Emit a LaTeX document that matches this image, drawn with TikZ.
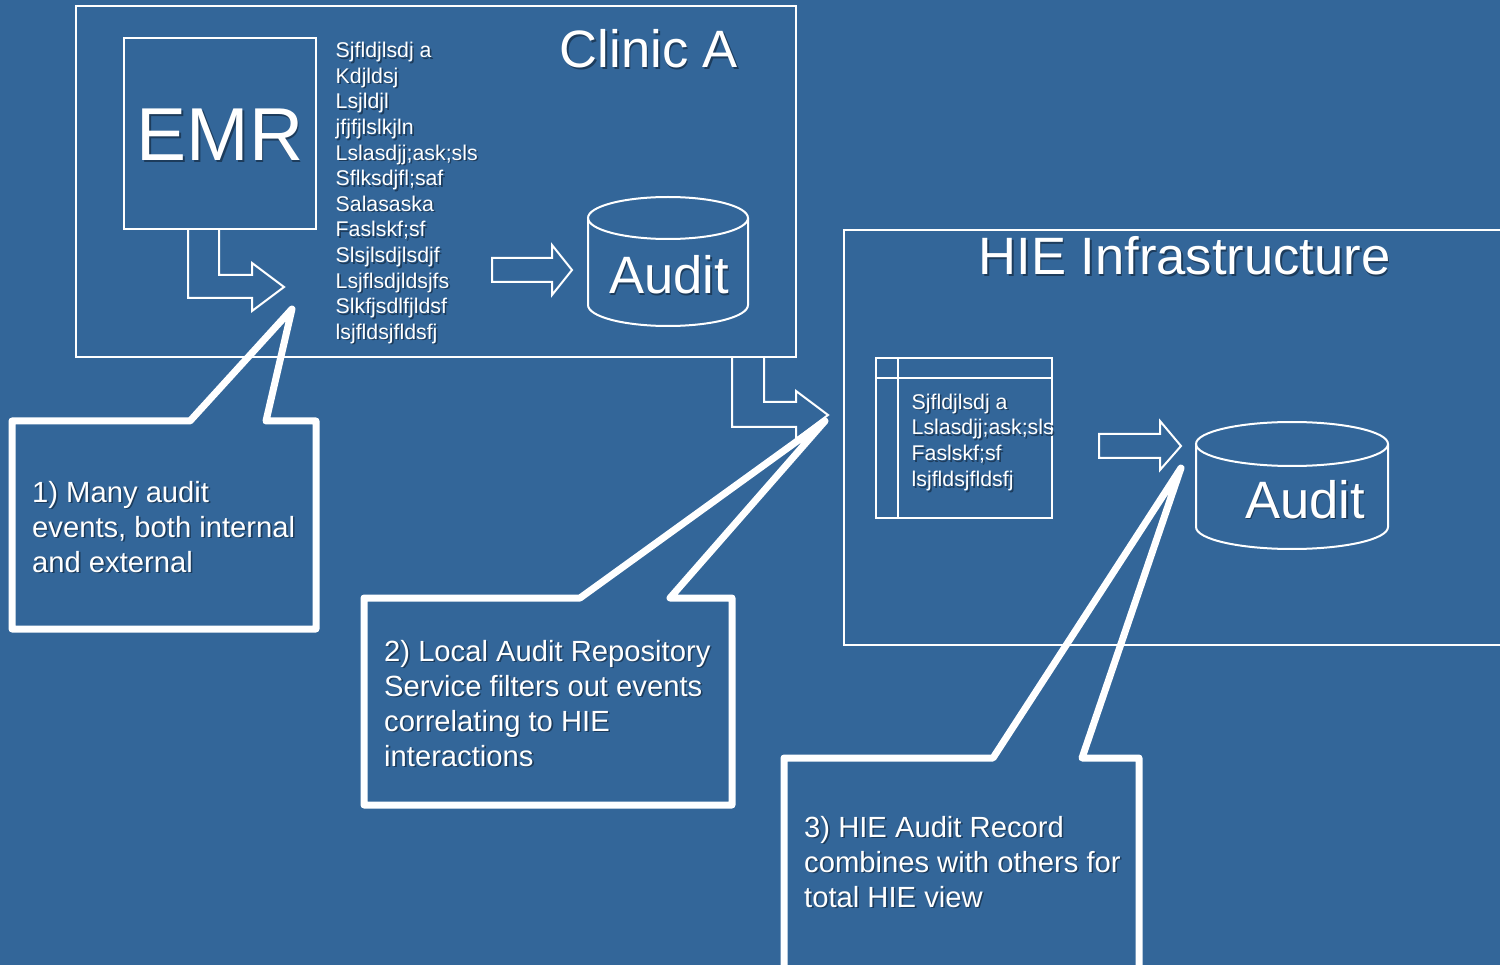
\documentclass[tikz,border=0pt]{standalone}
\usepackage{fontspec}
\setmainfont{Liberation Sans}
\definecolor{bg}{HTML}{336699}
\definecolor{shadowc}{HTML}{1D3C5C}
% white text with a soft dark drop shadow
\newcommand\shd[1]{\leavevmode\rlap{\kern1.6pt\raisebox{-1.6pt}{\textcolor{shadowc}{#1}}}#1}
\begin{document}
\begin{tikzpicture}[x=1pt,y=-1pt,
  thinline/.style={draw=white, line width=2pt},
  framebox/.style={thinline, rectangle, inner sep=0pt},
  callout/.style={draw=white, line width=7pt, line join=round},
  txt/.style={text=white, inner sep=0pt, align=left},
  big/.style={txt, font=\fontsize{52.6}{60}\selectfont},
  listtxt/.style={txt, anchor=north west, font=\fontsize{21.3}{25.6}\selectfont},
  notetxt/.style={txt, anchor=north west, font=\fontsize{29.2}{35}\selectfont}]
\fill[bg] (0,0) rectangle (1500,965);
\useasboundingbox (0,0) rectangle (1500,965);
\clip (0,0) rectangle (1500,965);

% ---------- Clinic A ----------
\node[framebox, minimum width=720pt, minimum height=351pt] (clinic) at (436,181.5) {};
\node[big] (clinictitle) at (649,50) {\shd{Clinic A}};
\node[framebox, minimum width=192pt, minimum height=191pt] (emr) at (220,133.5) {};
\node[txt, font=\fontsize{75}{80}\selectfont] (emrlabel) at (220,135.5) {\shd{EMR}};
\node[listtxt] (events) at (335.5,42) {\shd{Sjfldjlsdj a}\\ \shd{Kdjldsj}\\ \shd{Lsjldjl}\\
  \shd{jfjfjlslkjln}\\ \shd{Lslasdjj;ask;sls}\\ \shd{Sflksdjfl;saf}\\ \shd{Salasaska}\\
  \shd{Faslskf;sf}\\ \shd{Slsjlsdjlsdjf}\\ \shd{Lsjflsdjldsjfs}\\ \shd{Slkfjsdlfjldsf}\\
  \shd{lsjfldsjfldsfj}};

% bent block arrow out of the EMR
\draw[thinline, line join=miter] (188,229) -- (188,298) -- (252,298) -- (252,311) -- (284,287)
  -- (252,263) -- (252,275) -- (219,275) -- (219,229);
% block arrow into the local audit store
\draw[thinline, line join=miter] (492,258) -- (552,258) -- (552,245) -- (572,270) -- (552,295)
  -- (552,282) -- (492,282) -- cycle;

% local audit cylinder
\draw[thinline] (588,218) -- (588,305) arc[start angle=180, end angle=360, x radius=80pt, y radius=21pt] -- (748,218);
\draw[thinline] (668,218) ellipse[x radius=80pt, y radius=21pt];
\node[txt, font=\fontsize{52.6}{60}\selectfont] (localaudit) at (669,276) {\shd{Audit}};

% bent block arrow from the clinic to the HIE
\draw[thinline, line join=miter] (732,357) -- (732,427) -- (796,427) -- (796,439) -- (828,415)
  -- (796,391) -- (796,402) -- (764,402) -- (764,357);

% ---------- HIE Infrastructure ----------
\draw[thinline] (1510,230) -- (844,230) -- (844,645) -- (1510,645);
\node[big] (hietitle) at (1184.5,257) {\shd{HIE Infrastructure}};

% record table
\draw[thinline] (876,358) rectangle (1052,518);
\draw[thinline] (898,358) -- (898,518);
\draw[thinline] (876,378) -- (1052,378);
\node[listtxt, font=\fontsize{21.3}{25.8}\selectfont] (record) at (911.5,393.5) {\shd{Sjfldjlsdj a}\\
  \shd{Lslasdjj;ask;sls}\\ \shd{Faslskf;sf}\\ \shd{lsjfldsjfldsfj}};

\draw[thinline, line join=miter] (1099,434) -- (1160,434) -- (1160,421) -- (1181,446) -- (1160,470)
  -- (1160,458) -- (1099,458) -- cycle;

% HIE audit cylinder
\draw[thinline] (1196,444) -- (1196,527) arc[start angle=180, end angle=360, x radius=96pt, y radius=22pt] -- (1388,444);
\draw[thinline] (1292,444) ellipse[x radius=96pt, y radius=22pt];
\node[txt, font=\fontsize{52.6}{60}\selectfont] (hieaudit) at (1305,500) {\shd{Audit}};

% ---------- callouts ----------
\draw[callout] (12,421) -- (190,421) -- (292,309) -- (266,421) -- (316,421) -- (316,629) -- (12,629) -- cycle;
\node[notetxt] (note1) at (32,481) {\shd{1) Many audit}\\ \shd{events, both internal}\\ \shd{and external}};

\draw[callout] (364,598) -- (580,598) -- (825,421) -- (670,598) -- (732,598) -- (732,805) -- (364,805) -- cycle;
\node[notetxt] (note2) at (384,640) {\shd{2) Local Audit Repository}\\ \shd{Service filters out events}\\
  \shd{correlating to HIE}\\ \shd{interactions}};

\draw[callout] (784,758) -- (993,758) -- (1181,468) -- (1082,758) -- (1139,758) -- (1139,1000) -- (784,1000) -- cycle;
\node[notetxt] (note3) at (804,816) {\shd{3) HIE Audit Record}\\ \shd{combines with others for}\\ \shd{total HIE view}};
\end{tikzpicture}
\end{document}
